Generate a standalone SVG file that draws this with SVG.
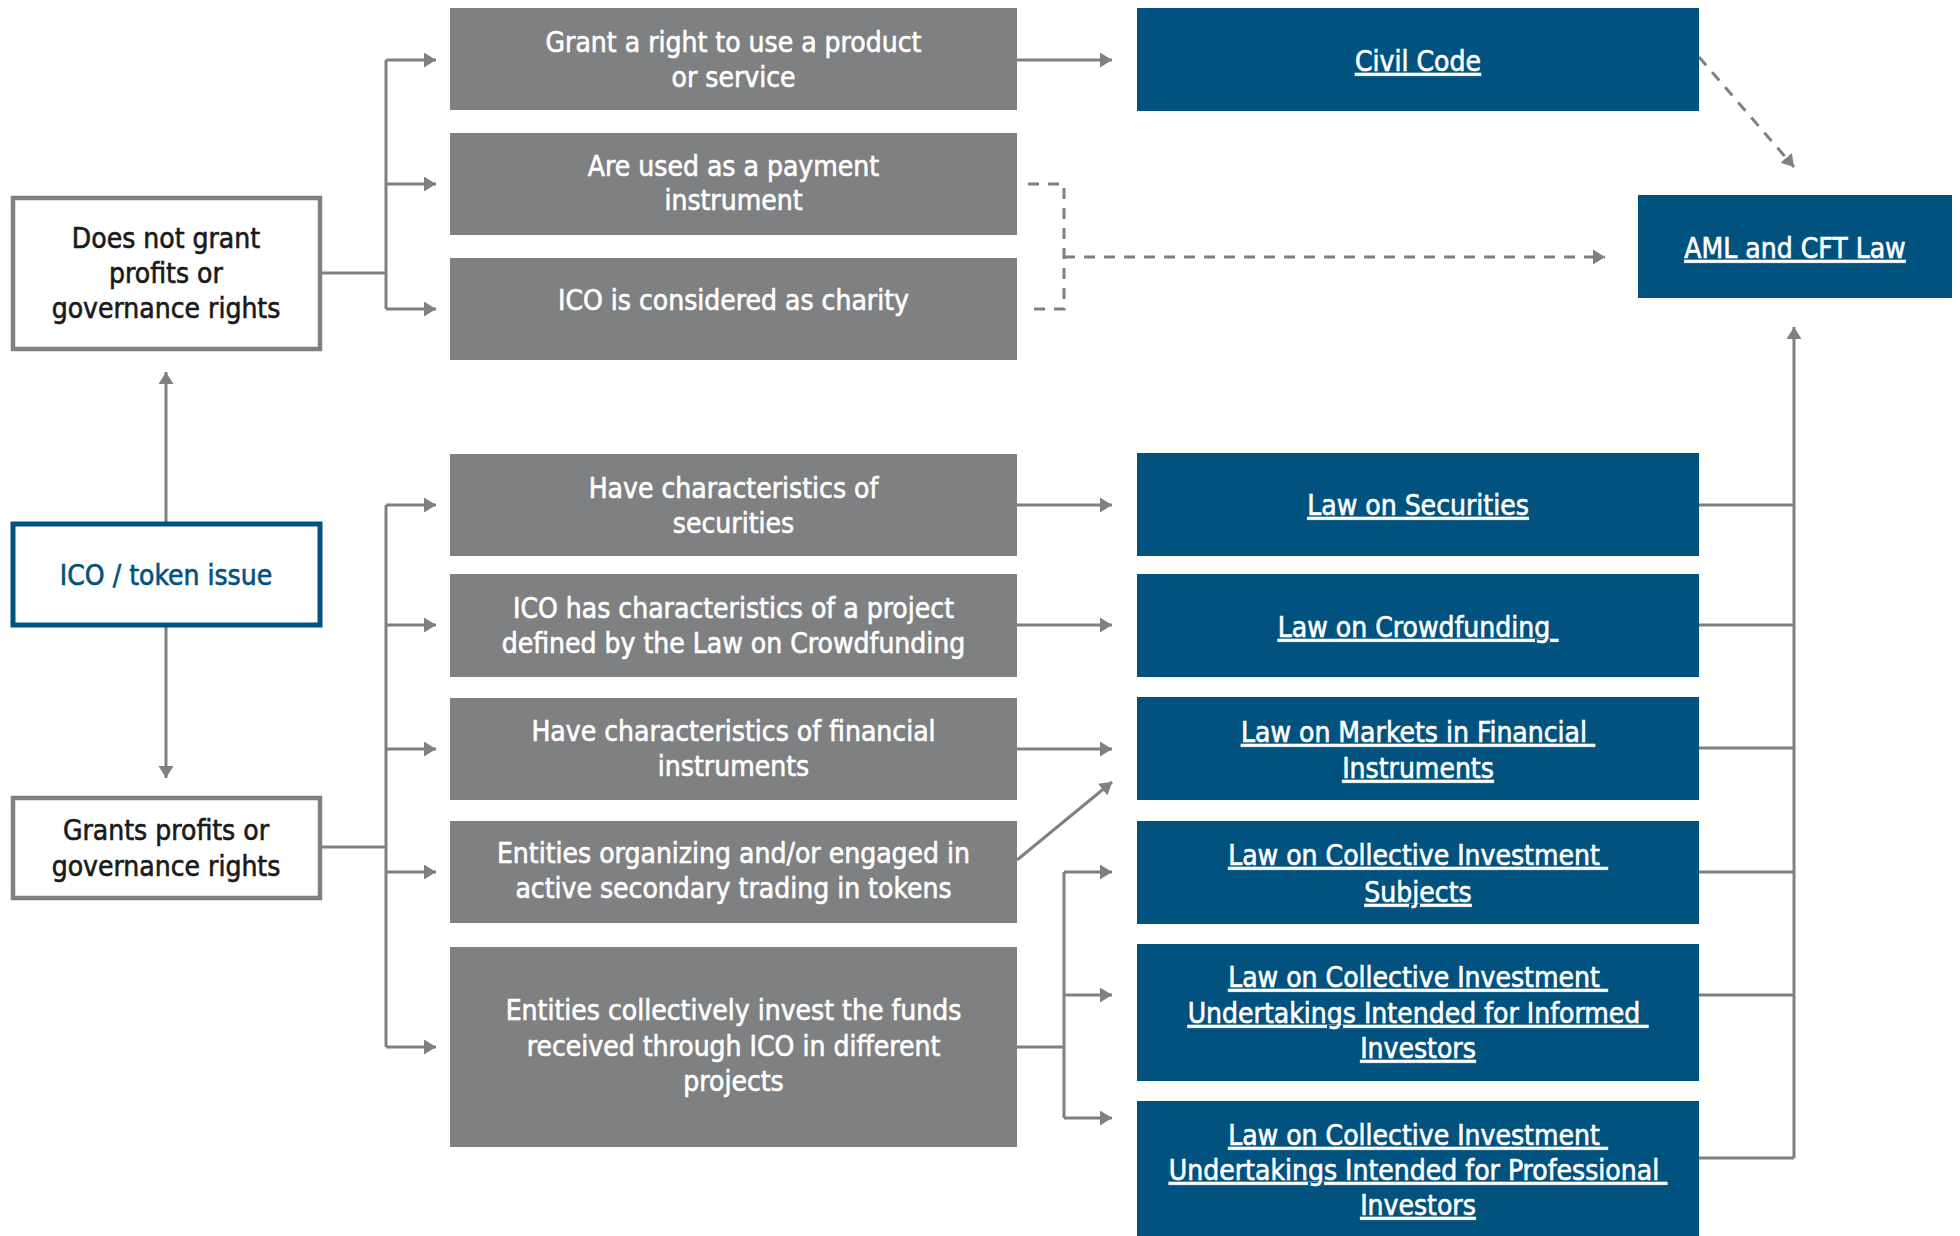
<svg xmlns="http://www.w3.org/2000/svg" width="1960" height="1236" viewBox="0 0 1960 1236">
<style>
.bg{fill:#ffffff}
.gray rect{fill:#7f8082}
.blue rect{fill:#02527f}
.outline rect{fill:#ffffff;stroke:#808080;stroke-width:4.5}
.ico rect{fill:#ffffff;stroke:#02527f;stroke-width:5}
text{font-family:"Liberation Sans Narrow","DejaVu Sans Condensed","Liberation Sans",sans-serif;font-size:28px;text-anchor:middle;stroke-width:0.6;white-space:pre}
.gray text{fill:#ffffff;stroke:#ffffff}
.blue text{fill:#ffffff;stroke:#ffffff;text-decoration:underline}
.outline text{fill:#1a1a1a;stroke:#1a1a1a}
.ico text{fill:#02527f;stroke:#02527f}
.conn path{fill:none;stroke:#808080;stroke-width:3}
.conn .a{marker-end:url(#arr)}
.conn .d{stroke-dasharray:11 9}
</style>
<defs>
<marker id="arr" markerUnits="userSpaceOnUse" markerWidth="14" markerHeight="16" refX="12" refY="7.5" orient="auto">
<path d="M0,0 L12,7.5 L0,15 z" fill="#808080"/>
</marker>
</defs>
<rect class="bg" x="0" y="0" width="1960" height="1236"/>

<g class="conn" id="connectors">
<path d="M322,273 H386"/>
<path d="M386,60 V309"/>
<path class="a" d="M386,60 H436"/>
<path class="a" d="M386,184 H436"/>
<path class="a" d="M386,309 H436"/>
<path class="a" d="M1017,60 H1112"/>
<path class="d" d="M1028,184 H1064 V309 H1028"/>
<path class="d a" d="M1064,257 H1605"/>
<path class="d a" d="M1699,57 L1794,167"/>
<path class="a" d="M166,522 V372"/>
<path class="a" d="M166,627 V778"/>
<path d="M322,847 H386"/>
<path d="M386,505 V1047"/>
<path class="a" d="M386,505 H436"/>
<path class="a" d="M386,625 H436"/>
<path class="a" d="M386,749 H436"/>
<path class="a" d="M386,872 H436"/>
<path class="a" d="M386,1047 H436"/>
<path class="a" d="M1017,505 H1112"/>
<path class="a" d="M1017,625 H1112"/>
<path class="a" d="M1017,749 H1112"/>
<path class="a" d="M1017,860 L1112,782"/>
<path d="M1017,1047 H1064"/>
<path d="M1064,872 V1118"/>
<path class="a" d="M1064,872 H1112"/>
<path class="a" d="M1064,995 H1112"/>
<path class="a" d="M1064,1118 H1112"/>
<path d="M1699,505 H1794"/>
<path d="M1699,625 H1794"/>
<path d="M1699,748 H1794"/>
<path d="M1699,872 H1794"/>
<path d="M1699,995 H1794"/>
<path d="M1699,1158 H1794"/>
<path class="a" d="M1794,1158 V327"/>
</g>

<g class="outline" id="n-nogrant">
<rect x="13" y="198" width="307" height="151"/>
<text x="166" y="248">Does not grant</text>
<text x="166" y="283">profits or</text>
<text x="166" y="318">governance rights</text>
</g>
<g class="ico" id="n-ico">
<rect x="13" y="524" width="307" height="101"/>
<text x="166" y="585">ICO / token issue</text>
</g>
<g class="outline" id="n-grants">
<rect x="13" y="798" width="307" height="100"/>
<text x="166" y="840">Grants profits or</text>
<text x="166" y="876">governance rights</text>
</g>

<g class="gray" id="n-g1">
<rect x="450" y="8" width="567" height="102"/>
<text x="733.5" y="52">Grant a right to use a product</text>
<text x="733.5" y="87">or service</text>
</g>
<g class="gray" id="n-g2">
<rect x="450" y="133" width="567" height="102"/>
<text x="733.5" y="176">Are used as a payment</text>
<text x="733.5" y="210">instrument</text>
</g>
<g class="gray" id="n-g3">
<rect x="450" y="258" width="567" height="102"/>
<text x="733.5" y="310">ICO is considered as charity</text>
</g>
<g class="gray" id="n-g4">
<rect x="450" y="454" width="567" height="102"/>
<text x="733.5" y="498">Have characteristics of</text>
<text x="733.5" y="533">securities</text>
</g>
<g class="gray" id="n-g5">
<rect x="450" y="574" width="567" height="103"/>
<text x="733.5" y="618">ICO has characteristics of a project</text>
<text x="733.5" y="653">defined by the Law on Crowdfunding</text>
</g>
<g class="gray" id="n-g6">
<rect x="450" y="698" width="567" height="102"/>
<text x="733.5" y="741">Have characteristics of financial</text>
<text x="733.5" y="776">instruments</text>
</g>
<g class="gray" id="n-g7">
<rect x="450" y="821" width="567" height="102"/>
<text x="733.5" y="863">Entities organizing and/or engaged in</text>
<text x="733.5" y="898">active secondary trading in tokens</text>
</g>
<g class="gray" id="n-g8">
<rect x="450" y="947" width="567" height="200"/>
<text x="733.5" y="1020">Entities collectively invest the funds</text>
<text x="733.5" y="1056">received through ICO in different</text>
<text x="733.5" y="1091">projects</text>
</g>

<g class="blue" id="n-civil">
<rect x="1137" y="8" width="562" height="103"/>
<text x="1418" y="71">Civil Code</text>
</g>
<g class="blue" id="n-aml">
<rect x="1638" y="195" width="314" height="103"/>
<text x="1795" y="258">AML and CFT Law</text>
</g>
<g class="blue" id="n-sec">
<rect x="1137" y="453" width="562" height="103"/>
<text x="1418" y="515">Law on Securities</text>
</g>
<g class="blue" id="n-crowd">
<rect x="1137" y="574" width="562" height="103"/>
<text x="1418" y="637">Law on Crowdfunding </text>
</g>
<g class="blue" id="n-markets">
<rect x="1137" y="697" width="562" height="103"/>
<text x="1418" y="742">Law on Markets in Financial </text>
<text x="1418" y="778">Instruments</text>
</g>
<g class="blue" id="n-cis">
<rect x="1137" y="821" width="562" height="103"/>
<text x="1418" y="865">Law on Collective Investment </text>
<text x="1418" y="902">Subjects</text>
</g>
<g class="blue" id="n-informed">
<rect x="1137" y="944" width="562" height="137"/>
<text x="1418" y="987">Law on Collective Investment </text>
<text x="1418" y="1023">Undertakings Intended for Informed </text>
<text x="1418" y="1058">Investors</text>
</g>
<g class="blue" id="n-prof">
<rect x="1137" y="1101" width="562" height="135"/>
<text x="1418" y="1145">Law on Collective Investment </text>
<text x="1418" y="1180">Undertakings Intended for Professional </text>
<text x="1418" y="1215">Investors</text>
</g>
</svg>
